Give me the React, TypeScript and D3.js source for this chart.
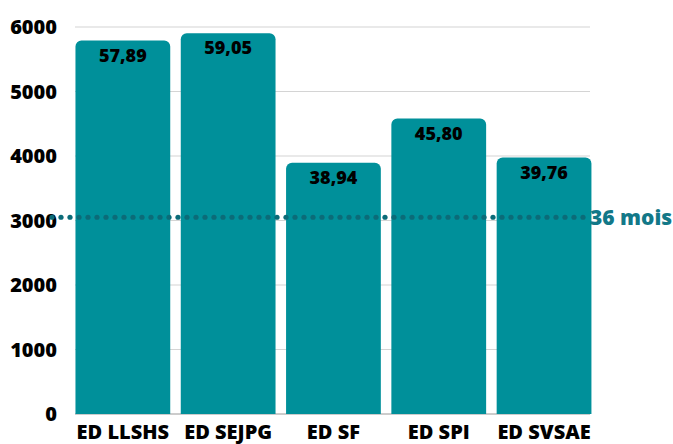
import React from "react";
import * as d3 from "d3";

const categories = ["ED LLSHS", "ED SEJPG", "ED SF", "ED SPI", "ED SVSAE"];
const values = [5789, 5905, 3894, 4580, 3976];
const valueLabels = ["57,89", "59,05", "38,94", "45,80", "39,76"];
const yTicks = [0, 1000, 2000, 3000, 4000, 5000, 6000];
const threshold = 3050;
const thresholdLabel = "36 mois";

const W = 673;
const H = 444;
const FONT = "'Open Sans', 'Noto Sans', sans-serif";

function topRoundedRect(x: number, y: number, w: number, h: number, r: number) {
  const p = d3.path();
  const rr = Math.min(r, w / 2, h);
  p.moveTo(x, y + h);
  p.lineTo(x, y + rr);
  p.arcTo(x, y, x + rr, y, rr);
  p.lineTo(x + w - rr, y);
  p.arcTo(x + w, y, x + w, y + rr, rr);
  p.lineTo(x + w, y + h);
  p.closePath();
  return p.toString();
}

export default function App() {
  const x = d3.scaleBand<string>().domain(categories).range([70.2, 596.7]).paddingInner(0.1).paddingOuter(0.05);
  const y = d3.scaleLinear().domain([0, 6000]).range([414, 27]);
  const gridX0 = 75;
  const gridX1 = 590;
  const ty = y(threshold);
  const dots = d3.range(52, 586, 9);

  return (
    <svg width={W} height={H} style={{ position: "absolute", left: 0, top: 0, background: "#fff" }}>
      {yTicks.map((t) => (
        <g key={t}>
          <line x1={gridX0} x2={gridX1} y1={y(t)} y2={y(t)} stroke={t === 0 ? "#9a9a9a" : "#d4d4d4"} strokeWidth={1.2} />
          <text x={57} y={y(t)} dy="0.36em" textAnchor="end" fontFamily={FONT} fontWeight={800} fontSize={20} fill="#000">
            {t}
          </text>
        </g>
      ))}
      {categories.map((c, i) => {
        const bx = x(c)!;
        const bw = x.bandwidth();
        const top = y(values[i]);
        return (
          <g key={c}>
            <path d={topRoundedRect(bx, top, bw, y(0) - top, 6)} fill="#00909a" />
            <text x={bx + bw / 2} y={top + 21} textAnchor="middle" fontFamily={FONT} fontWeight={800} fontSize={18} fill="#000">
              {valueLabels[i]}
            </text>
            <text x={bx + bw / 2} y={439} textAnchor="middle" fontFamily={FONT} fontWeight={800} fontSize={20} fill="#000">
              {c}
            </text>
          </g>
        );
      })}
      {dots.map((dx) => (
        <circle key={dx} cx={dx} cy={ty} r={2.6} fill="#0b6b78" />
      ))}
      <text x={590} y={ty} dy="0.36em" fontFamily={FONT} fontWeight={800} fontSize={21} fill="#127888">
        {thresholdLabel}
      </text>
    </svg>
  );
}
